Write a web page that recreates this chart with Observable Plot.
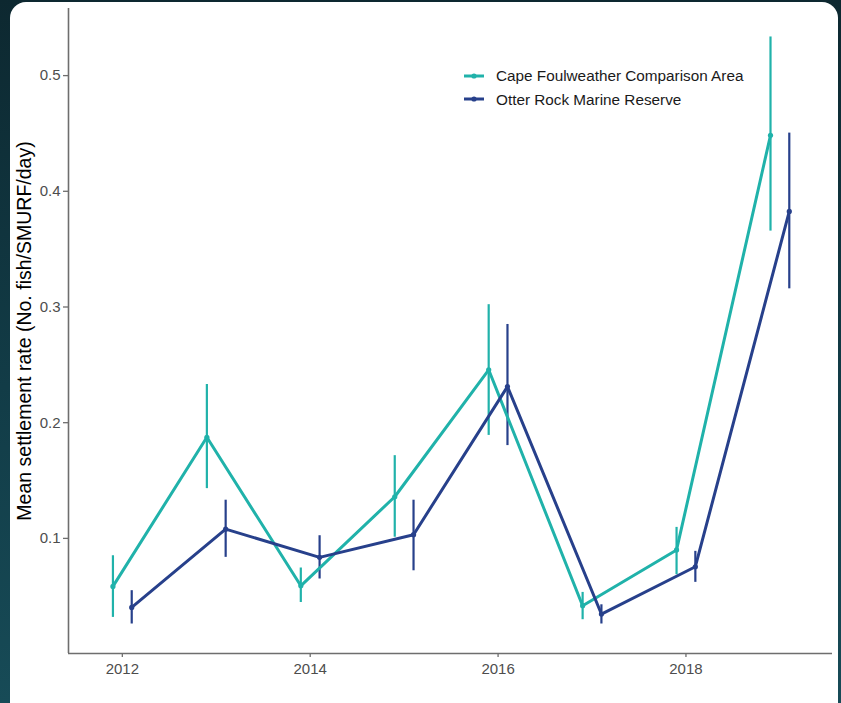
<!DOCTYPE html>
<html>
<head>
<meta charset="utf-8">
<script src="https://cdn.jsdelivr.net/npm/d3@7"></script>
<script src="https://cdn.jsdelivr.net/npm/@observablehq/plot@0.6"></script>
<style>
  html, body { margin: 0; padding: 0; width: 841px; height: 703px; overflow: hidden; }
  body { background: linear-gradient(to bottom, #0d2830 0%, #123c47 55%, #174b57 100%); font-family: "Liberation Sans", Arial, sans-serif; position: relative; }
  #card { position: absolute; left: 10px; top: 2px; width: 828px; height: 730px; background: #fff; border-radius: 16px; }
  #chart { position: absolute; left: 0; top: 0; }
  #legend { position: absolute; left: 463px; top: 64px; font-size: 15.3px; color: #1a1a1a; line-height: 23.5px; }
  .item { display: flex; align-items: center; height: 23.5px; }
  .item svg { margin-right: 11px; }
</style>
</head>
<body>
<div id="card"></div>
<div id="chart"></div>
<div id="legend"></div>
<script>
const years = [2012, 2013, 2014, 2015, 2016, 2017, 2018, 2019];
const seriesNames = ["Cape Foulweather Comparison Area", "Otter Rock Marine Reserve"];
const seriesColors = ["#20b2aa", "#27408b"];
const capeMean = [0.0585, 0.1874, 0.0590, 0.1360, 0.2457, 0.0418, 0.0900, 0.4484];
const capeLow  = [0.0317, 0.1430, 0.0446, 0.1010, 0.1890, 0.0297, 0.0686, 0.3656];
const capeHigh = [0.0850, 0.2330, 0.0744, 0.1715, 0.3020, 0.0533, 0.1095, 0.5334];
const otterMean = [0.0403, 0.1080, 0.0836, 0.1032, 0.2312, 0.0346, 0.0755, 0.3826];
const otterLow  = [0.0260, 0.0836, 0.0649, 0.0720, 0.1802, 0.0260, 0.0620, 0.3157];
const otterHigh = [0.0548, 0.1330, 0.1023, 0.1330, 0.2849, 0.0426, 0.0888, 0.4503];
const xTicks = [2012, 2014, 2016, 2018];
const yTicks = [0.1, 0.2, 0.3, 0.4, 0.5];
const dodge = [-0.1, 0.1];

const rows = [];
[[capeMean, capeLow, capeHigh], [otterMean, otterLow, otterHigh]].forEach((s, si) => {
  years.forEach((yr, i) => {
    rows.push({series: seriesNames[si], year: yr, x: yr + dodge[si], mean: s[0][i], lo: s[1][i], hi: s[2][i]});
  });
});

const xDomain = [2011.427, 2019.56];
const yDomain = [0.0005, 0.558];
const axisColor = "#6e6e6e";

const chart = Plot.plot({
  width: 841,
  height: 703,
  marginLeft: 68,
  marginRight: 9,
  marginTop: 8,
  marginBottom: 50,
  style: {background: "transparent", fontFamily: "'Liberation Sans', Arial, sans-serif", fontSize: "15px", overflow: "visible"},
  x: {domain: xDomain, label: null},
  y: {domain: yDomain, label: null},
  color: {domain: seriesNames, range: seriesColors},
  marks: [
    Plot.ruleX([xDomain[0]], {stroke: axisColor, strokeWidth: 1.6}),
    Plot.ruleY([yDomain[0]], {stroke: axisColor, strokeWidth: 1.6}),
    Plot.axisX({ticks: xTicks, tickFormat: d => String(d), tickSize: 4, tickPadding: 6, stroke: axisColor, strokeWidth: 1.3, fill: "#4d4d4d", fontSize: 15, label: null}),
    Plot.axisY({ticks: yTicks, tickFormat: d => String(d), tickSize: 5, tickPadding: 3, stroke: axisColor, strokeWidth: 1.3, fill: "#4d4d4d", fontSize: 15, label: null}),
    Plot.ruleX(rows, {x: "x", y1: "lo", y2: "hi", stroke: "series", strokeWidth: 2.2}),
    Plot.line(rows, {x: "x", y: "mean", z: "series", stroke: "series", strokeWidth: 3, curve: "linear"}),
    Plot.dot(rows, {x: "x", y: "mean", fill: "series", r: 2.6, stroke: "none"}),
    Plot.text(["Mean settlement rate (No. fish/SMURF/day)"], {
      x: xDomain[0], y: (yDomain[0] + yDomain[1]) / 2, frameAnchor: "middle", text: d => d,
      rotate: -90, dx: -44, fontSize: 19.5, fill: "#000", textAnchor: "middle"
    })
  ]
});
document.getElementById("chart").appendChild(chart);

const legend = document.getElementById("legend");
seriesNames.forEach((name, i) => {
  const item = document.createElement("div");
  item.className = "item";
  item.innerHTML = `<svg width="22" height="8"><line x1="1" y1="4" x2="21" y2="4" stroke="${seriesColors[i]}" stroke-width="3"/><circle cx="11" cy="4" r="2.6" fill="${seriesColors[i]}"/></svg><span>${name}</span>`;
  legend.appendChild(item);
});
</script>
</body>
</html>
